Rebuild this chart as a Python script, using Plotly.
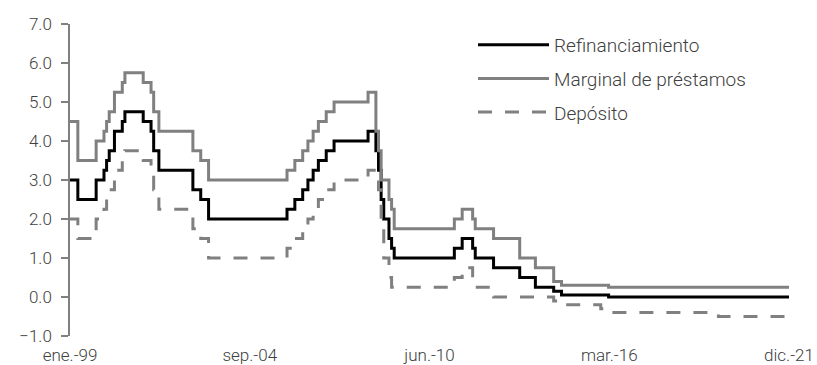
import plotly.graph_objects as go

# ECB official rates (%), change months and new values
refi_dates = ["1999-01", "1999-04", "1999-11", "2000-02", "2000-03", "2000-04", "2000-06",
              "2000-09", "2000-10", "2001-05", "2001-08", "2001-09", "2001-11", "2002-12",
              "2003-03", "2003-06", "2005-12", "2006-03", "2006-06", "2006-08", "2006-10",
              "2006-12", "2007-03", "2007-06", "2008-07", "2008-10", "2008-11", "2008-12",
              "2009-01", "2009-03", "2009-04", "2009-05", "2011-04", "2011-07", "2011-11",
              "2011-12", "2012-07", "2013-05", "2013-11", "2014-06", "2014-09", "2016-03",
              "2021-12"]
refi_vals = [3.00, 2.50, 3.00, 3.25, 3.50, 3.75, 4.25,
             4.50, 4.75, 4.50, 4.25, 3.75, 3.25, 2.75,
             2.50, 2.00, 2.25, 2.50, 2.75, 3.00, 3.25,
             3.50, 3.75, 4.00, 4.25, 3.75, 3.25, 2.50,
             2.00, 1.50, 1.25, 1.00, 1.25, 1.50, 1.25,
             1.00, 0.75, 0.50, 0.25, 0.15, 0.05, 0.00,
             0.00]

marg_dates = ["1999-01", "1999-04", "1999-11", "2000-02", "2000-03", "2000-04", "2000-06",
              "2000-09", "2000-10", "2001-05", "2001-08", "2001-09", "2001-11", "2002-12",
              "2003-03", "2003-06", "2005-12", "2006-03", "2006-06", "2006-08", "2006-10",
              "2006-12", "2007-03", "2007-06", "2008-07", "2008-10", "2008-11", "2008-12",
              "2009-03", "2009-04", "2009-05", "2011-04", "2011-07", "2011-11",
              "2011-12", "2012-07", "2013-05", "2013-11", "2014-06", "2014-09", "2016-03",
              "2021-12"]
marg_vals = [4.50, 3.50, 4.00, 4.25, 4.50, 4.75, 5.25,
             5.50, 5.75, 5.50, 5.25, 4.75, 4.25, 3.75,
             3.50, 3.00, 3.25, 3.50, 3.75, 4.00, 4.25,
             4.50, 4.75, 5.00, 5.25, 4.25, 3.75, 3.00,
             2.50, 2.25, 1.75, 2.00, 2.25, 2.00,
             1.75, 1.50, 1.00, 0.75, 0.40, 0.30, 0.25,
             0.25]

dep_dates = ["1999-01", "1999-04", "1999-11", "2000-02", "2000-03", "2000-04", "2000-06",
             "2000-09", "2000-10", "2001-05", "2001-08", "2001-09", "2001-11", "2002-12",
             "2003-03", "2003-06", "2005-12", "2006-03", "2006-06", "2006-08", "2006-10",
             "2006-12", "2007-03", "2007-06", "2008-07", "2008-11", "2008-12",
             "2009-01", "2009-03", "2009-04", "2011-04", "2011-07", "2011-11",
             "2011-12", "2012-07", "2014-06", "2014-09", "2015-12", "2016-03", "2019-09",
             "2021-12"]
dep_vals = [2.00, 1.50, 2.00, 2.25, 2.50, 2.75, 3.25,
            3.50, 3.75, 3.50, 3.25, 2.75, 2.25, 1.75,
            1.50, 1.00, 1.25, 1.50, 1.75, 2.00, 2.25,
            2.50, 2.75, 3.00, 3.25, 2.75, 2.00,
            1.00, 0.50, 0.25, 0.50, 0.75, 0.50,
            0.25, 0.00, -0.10, -0.20, -0.30, -0.40, -0.50,
            -0.50]

tick_labels = ["ene.-99", "sep.-04", "jun.-10", "mar.-16", "dic.-21"]
y_ticks = [-1, 0, 1, 2, 3, 4, 5, 6, 7]


def midx(s):
    y, m = map(int, s.split("-"))
    return (y - 1999) * 12 + (m - 1)


n_last = midx("2021-12")
tick_vals = [n_last * k / 4 for k in range(5)]

GRAY = "#808080"
TXT = "#404040"
FONT = "Roboto"

fig = go.Figure()
fig.add_trace(go.Scatter(x=[midx(d) for d in refi_dates], y=refi_vals, mode="lines",
                         line=dict(color="black", width=3, shape="hv"),
                         name="Refinanciamiento", legendgroup="a"))
fig.add_trace(go.Scatter(x=[midx(d) for d in marg_dates], y=marg_vals, mode="lines",
                         line=dict(color=GRAY, width=3, shape="hv"),
                         name="Marginal de préstamos", legendgroup="b"))
fig.add_trace(go.Scatter(x=[midx(d) for d in dep_dates], y=dep_vals, mode="lines",
                         line=dict(color=GRAY, width=3, shape="hv", dash="14px,13px"),
                         name="Depósito", legendgroup="c"))

fig.update_layout(
    width=817, height=365,
    margin=dict(l=70, r=28, t=24, b=29),
    paper_bgcolor="white", plot_bgcolor="white",
    font=dict(family=FONT, size=16, color=TXT, weight=300),
    xaxis=dict(range=[0, n_last], tickvals=tick_vals, ticktext=tick_labels,
               showline=False, showgrid=False, zeroline=False, automargin=False,
               ticks="outside", ticklen=4, tickcolor="rgba(0,0,0,0)",
               tickfont=dict(size=17, color=TXT, weight=300)),
    xaxis2=dict(overlaying="x", anchor="free", position=0.125, side="bottom",
                range=[0, n_last], tickvals=tick_vals, showticklabels=False,
                showline=True, linecolor=GRAY, linewidth=1.5, automargin=False,
                ticks="outside", ticklen=6, tickcolor=GRAY, tickwidth=1.5,
                showgrid=False, zeroline=False),
    yaxis=dict(range=[-1, 7], tickvals=y_ticks, tickformat=".1f",
               showline=True, linecolor=GRAY, linewidth=1.5, automargin=False,
               ticks="outside", ticklen=7, tickcolor=GRAY, tickwidth=1.5,
               showgrid=False, zeroline=False, ticklabelstandoff=6,
               tickfont=dict(size=17, color=TXT, weight=300)),
    legend=dict(x=0.5605, y=0.994, xanchor="left", yanchor="top",
                bgcolor="rgba(0,0,0,0)", itemwidth=71, tracegroupgap=6,
                font=dict(size=19, color=TXT, weight=300)),
    showlegend=True,
)
fig.add_annotation(text="%", xref="paper", yref="paper", x=-0.09, y=1.058,
                   xanchor="left", yanchor="bottom", showarrow=False,
                   font=dict(size=16, color=TXT, weight=300))

fig.write_html("out.html", config={"displayModeBar": False},
               post_script="document.body.style.margin='0';")
